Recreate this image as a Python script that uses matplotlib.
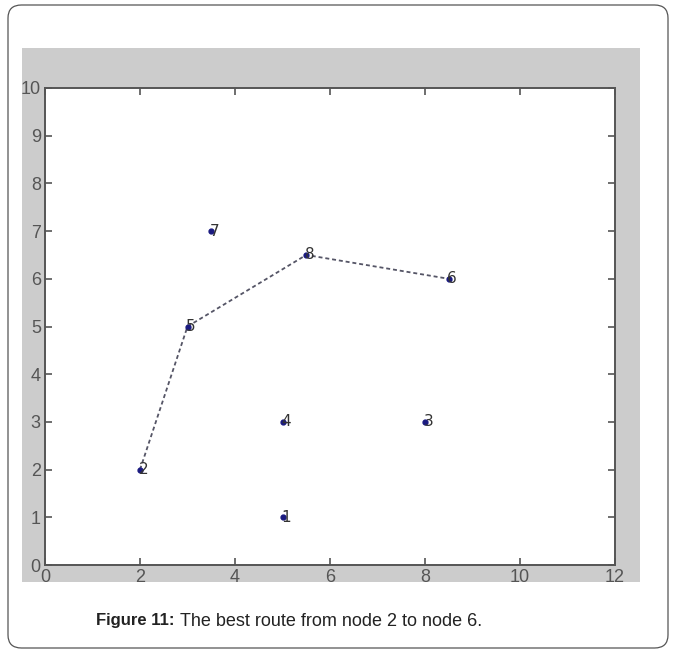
import numpy as np
import matplotlib
matplotlib.use("Agg")
from matplotlib import pyplot as plt
from matplotlib.patches import FancyBboxPatch, Rectangle

# node coordinates and labels
node_labels = ['1', '2', '3', '4', '5', '6', '7', '8']
node_x = [5, 2, 8, 5, 3, 8.5, 3.5, 5.5]
node_y = [1, 2, 3, 3, 5, 6, 7, 6.5]

# best route 2 -> 5 -> 8 -> 6
route = ['2', '5', '8', '6']

x_ticks = [0, 2, 4, 6, 8, 10, 12]
y_ticks = [0, 1, 2, 3, 4, 5, 6, 7, 8, 9, 10]

W, H = 673, 653
fig = plt.figure(figsize=(W / 100, H / 100), dpi=100)
fig.patch.set_facecolor('white')

# outer rounded frame
frame = FancyBboxPatch((8 / W, 1 - 648 / H), 660 / W, 643 / H,
                       boxstyle="round,pad=0,rounding_size=0.02",
                       transform=fig.transFigure, facecolor='none',
                       edgecolor='#555555', linewidth=0.9, zorder=-2)
fig.patches.append(frame)

# matlab-style grey figure background
grey = Rectangle((22 / W, 1 - 582 / H), 618 / W, 534 / H,
                 transform=fig.transFigure, facecolor='#cccccc',
                 edgecolor='none', zorder=-1)
fig.patches.append(grey)

ax = fig.add_axes([45 / W, 1 - 565 / H, 570 / W, 477 / H])
ax.set_facecolor('white')

idx = [node_labels.index(r) for r in route]
rx = [node_x[i] for i in idx]
ry = [node_y[i] for i in idx]
ax.plot(rx, ry, linestyle=(0, (2.2, 1.6)), color='#555566', linewidth=1.3)

ax.plot(node_x, node_y, linestyle='none', marker='o', markersize=3.5,
        color='#1a1a80')
for lab, x, y in zip(node_labels, node_x, node_y):
    ax.annotate(lab, (x, y), xytext=(-1, 0), textcoords='offset points',
                fontsize=11, color='#333333', ha='left', va='center',
                family='DejaVu Sans')

ax.set_xlim(0, 12)
ax.set_ylim(0, 10)
ax.set_xticks(x_ticks)
ax.set_yticks(y_ticks)
ax.tick_params(direction='in', top=True, right=True, length=5, width=1.2,
               color='#555555', labelsize=13, labelcolor='#555555', pad=3)
for lbl in ax.get_xticklabels() + ax.get_yticklabels():
    lbl.set_family('Liberation Sans')
for s in ax.spines.values():
    s.set_color('#555555')
    s.set_linewidth(1.4)

fig.text(96 / W, 1 - 621 / H, 'Figure 11:', fontsize=12, weight='bold',
         family='Liberation Sans', va='center', ha='left', color='#222222')
fig.text(180 / W, 1 - 621 / H, 'The best route from node 2 to node 6.',
         fontsize=13, family='Liberation Sans', va='center', ha='left',
         color='#222222')

fig.savefig('out.png', dpi=100)
